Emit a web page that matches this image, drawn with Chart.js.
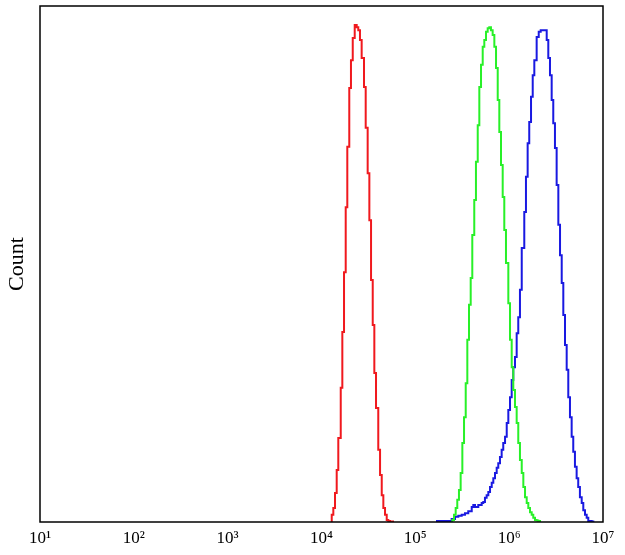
<!DOCTYPE html>
<html>
<head>
<meta charset="utf-8">
<script src="https://cdn.jsdelivr.net/npm/chart.js@4.4.0/dist/chart.umd.min.js"></script>
<style>
  body { margin: 0; background: #fff; }
  #wrap { width: 625px; height: 555px; }
</style>
</head>
<body>
<div id="wrap"><canvas id="chart"></canvas></div>
<script>
// histogram channels, left bin edges in log10 units, and counts (% of axis height)
const redLog = [4.109, 4.126, 4.144, 4.162, 4.179, 4.205, 4.222, 4.240, 4.258, 4.275, 4.296, 4.314, 4.333, 4.354, 4.375, 4.392, 4.410, 4.428, 4.453, 4.471, 4.492, 4.510, 4.528, 4.546, 4.563, 4.581, 4.605, 4.624, 4.642, 4.659, 4.677, 4.695, 4.712, 4.730, 4.762];
const redCounts = [1.4, 2.7, 5.6, 10.1, 16.3, 26.0, 36.8, 48.4, 61.0, 72.7, 84.1, 89.5, 93.8, 96.3, 95.9, 95.3, 93.4, 89.9, 84.3, 76.4, 67.6, 58.5, 46.9, 38.2, 28.9, 22.1, 14.0, 9.1, 5.2, 2.7, 1.4, 0.4, 0.2, 0.1, 0];

const greenLog = [5.394, 5.412, 5.430, 5.447, 5.465, 5.483, 5.501, 5.519, 5.537, 5.554, 5.572, 5.590, 5.607, 5.628, 5.646, 5.665, 5.682, 5.700, 5.718, 5.735, 5.753, 5.771, 5.788, 5.806, 5.824, 5.842, 5.860, 5.878, 5.895, 5.913, 5.931, 5.948, 5.966, 5.991, 6.009, 6.027, 6.044, 6.062, 6.080, 6.097, 6.115, 6.134, 6.151, 6.169, 6.187, 6.204, 6.222, 6.240, 6.257, 6.275, 6.293, 6.310, 6.329];
const greenCounts = [0.4, 1.4, 2.7, 4.3, 6.2, 9.5, 15.3, 20.3, 26.9, 35.3, 42.1, 47.3, 55.6, 62.4, 69.8, 76.9, 84.3, 88.6, 92.1, 93.4, 95.0, 95.7, 95.9, 95.3, 94.4, 92.1, 88.0, 81.8, 75.6, 69.2, 63.0, 56.6, 50.2, 42.4, 35.3, 30.0, 25.6, 22.3, 19.2, 15.3, 12.0, 9.5, 6.8, 4.8, 3.7, 2.7, 1.9, 1.4, 0.8, 0.4, 0.3, 0.2, 0];

const blueLog = [5.231, 5.351, 5.387, 5.423, 5.458, 5.494, 5.529, 5.564, 5.601, 5.618, 5.636, 5.671, 5.707, 5.724, 5.742, 5.760, 5.778, 5.796, 5.814, 5.831, 5.849, 5.867, 5.884, 5.902, 5.920, 5.937, 5.956, 5.974, 5.991, 6.009, 6.027, 6.044, 6.062, 6.080, 6.097, 6.115, 6.134, 6.161, 6.179, 6.197, 6.214, 6.233, 6.251, 6.268, 6.293, 6.315, 6.336, 6.364, 6.400, 6.417, 6.435, 6.453, 6.470, 6.488, 6.506, 6.524, 6.542, 6.560, 6.577, 6.595, 6.613, 6.630, 6.648, 6.666, 6.683, 6.701, 6.719, 6.736, 6.754, 6.773, 6.790, 6.808, 6.826, 6.843, 6.879, 6.897];
const blueCounts = [0.2, 0.2, 0.6, 1.0, 1.2, 1.4, 1.7, 2.1, 2.9, 3.3, 2.9, 3.3, 3.7, 3.9, 4.7, 5.2, 5.8, 6.8, 7.6, 8.5, 9.5, 10.5, 11.4, 12.6, 14.0, 15.3, 16.5, 19.2, 21.7, 24.2, 27.5, 30.0, 32.0, 36.6, 39.7, 45.0, 53.1, 60.1, 66.9, 73.4, 77.5, 82.4, 86.6, 89.5, 94.0, 95.0, 95.3, 95.3, 93.4, 89.9, 86.6, 81.8, 77.3, 72.5, 65.3, 57.6, 51.7, 46.3, 40.1, 34.3, 29.5, 24.2, 20.3, 16.5, 13.6, 10.7, 8.5, 6.8, 4.8, 3.7, 2.3, 1.4, 0.8, 0.2, 0.1, 0];

const tickValues = [1e1, 1e2, 1e3, 1e4, 1e5, 1e6, 1e7];
const tickLabels = ['10\u00b9', '10\u00b2', '10\u00b3', '10\u2074', '10\u2075', '10\u2076', '10\u2077'];

const serif = '"Liberation Serif", "DejaVu Serif", serif';

// turn edges + counts into points; the leading zero makes the first step rise from the axis
function toPoints(logs, counts) {
    let pts = [{ x: Math.pow(10, logs[0]), y: 0 }];
    logs.forEach((l, i) => pts.push({ x: Math.pow(10, l), y: counts[i] }));
    return pts;
}

function series(logs, counts, color) {
    return {
        data: toPoints(logs, counts),
        borderColor: color,
        borderWidth: 2,
        stepped: 'before',
        pointRadius: 0,
        fill: false,
        tension: 0
    };
}

const framePlugin = {
    id: 'frame',
    afterDraw(chart) {
        const { ctx, chartArea: a } = chart;
        ctx.save();
        ctx.strokeStyle = '#000';
        ctx.lineWidth = 1.5;
        ctx.strokeRect(a.left, a.top, a.right - a.left, a.bottom - a.top);
        ctx.restore();
    }
};

new Chart(document.getElementById('chart'), {
    type: 'line',
    data: {
        datasets: [
            series(redLog, redCounts, 'rgb(240, 25, 30)'),
            series(greenLog, greenCounts, 'rgb(40, 240, 40)'),
            series(blueLog, blueCounts, 'rgb(25, 25, 225)')
        ]
    },
    options: {
        responsive: true,
        maintainAspectRatio: false,
        animation: false,
        layout: { padding: { top: 6, right: 22, left: 0, bottom: 0 } },
        plugins: { legend: { display: false }, tooltip: { enabled: false } },
        scales: {
            x: {
                type: 'logarithmic',
                min: 10,
                max: 1e7,
                afterBuildTicks: s => { s.ticks = tickValues.map(v => ({ value: v })); },
                afterFit: s => { s.height = 33; },
                grid: { display: false, drawTicks: false },
                border: { display: false },
                ticks: {
                    autoSkip: false,
                    maxRotation: 0,
                    padding: 6,
                    color: '#000',
                    font: { family: serif, size: 17 },
                    callback: (v) => tickLabels[tickValues.indexOf(v)]
                }
            },
            y: {
                min: 0,
                max: 100,
                afterFit: s => { s.width = 40; },
                grid: { display: false, drawTicks: false },
                border: { display: false },
                ticks: { display: false },
                title: {
                    display: true,
                    text: 'Count',
                    color: '#000',
                    font: { family: serif, size: 22 }
                }
            }
        }
    },
    plugins: [framePlugin]
});
</script>
</body>
</html>
